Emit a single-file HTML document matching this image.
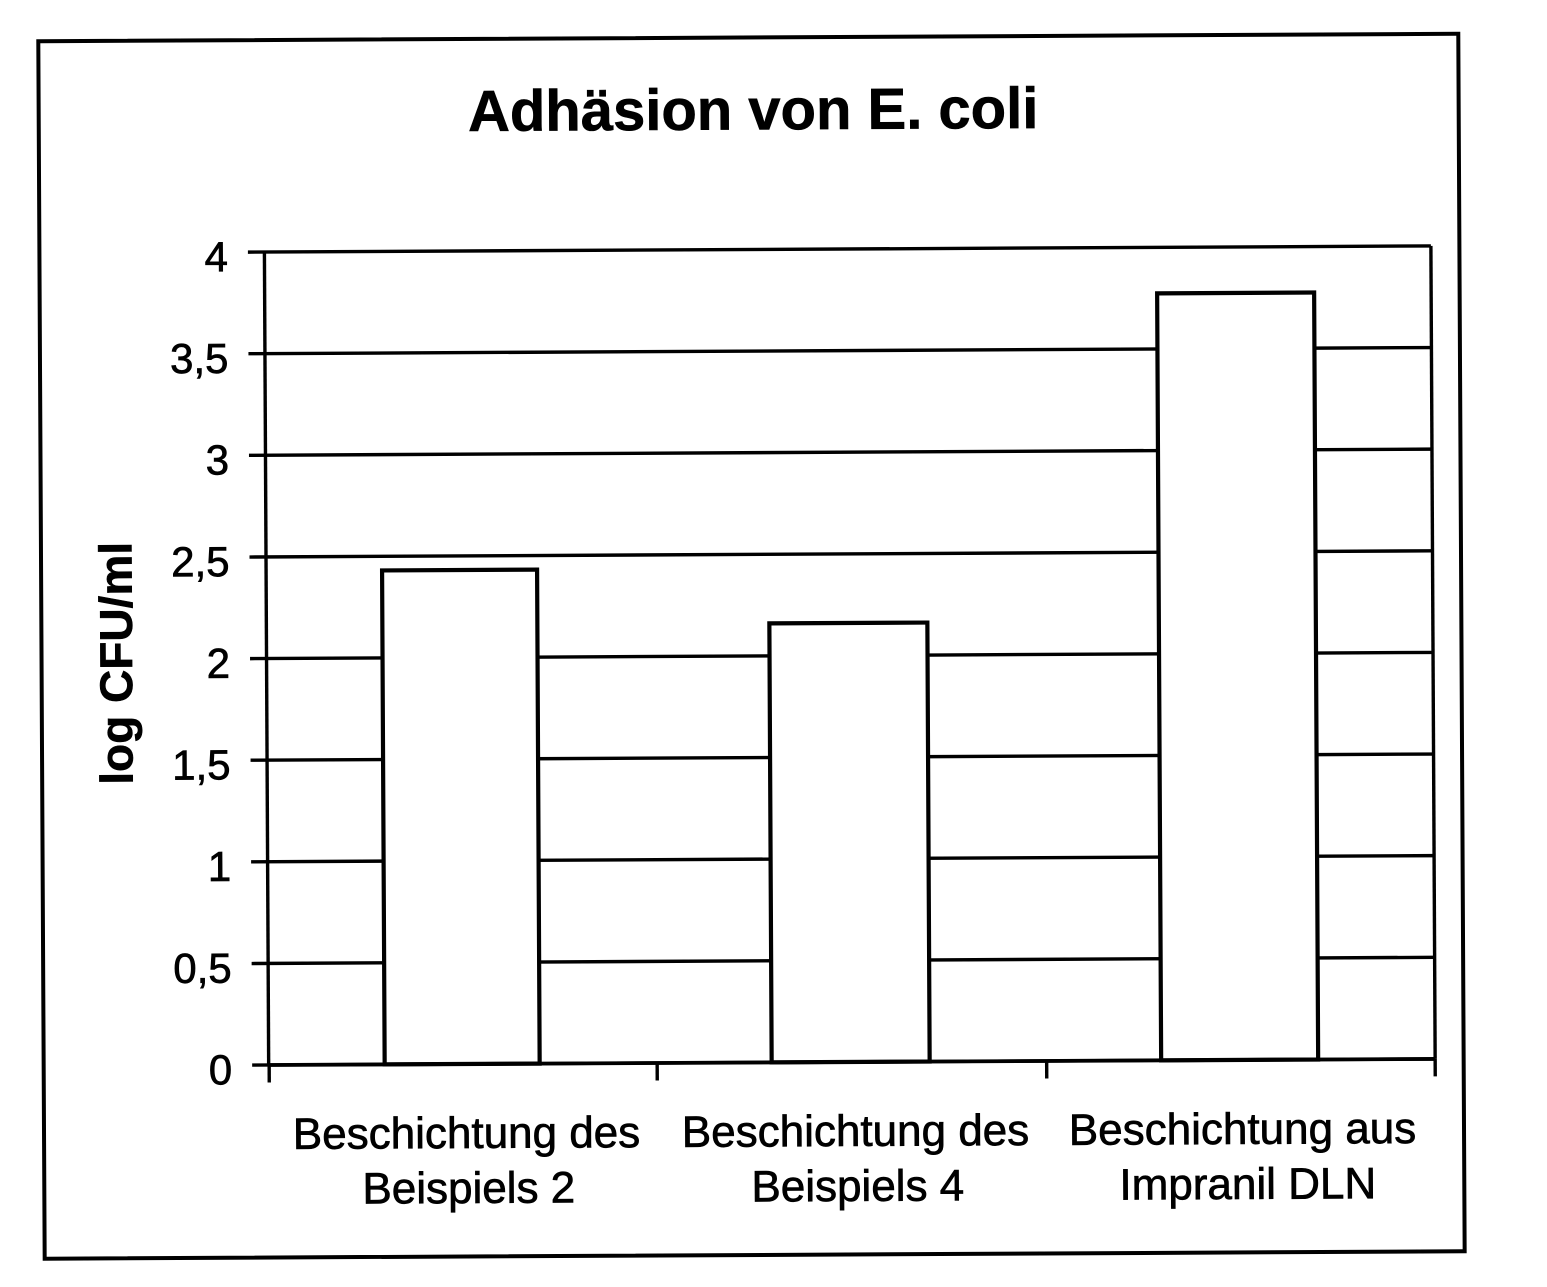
<!DOCTYPE html>
<html>
<head>
<meta charset="utf-8">
<style>
  html, body { margin: 0; padding: 0; background: #ffffff; }
  svg { display: block; }
  text { font-family: "Liberation Sans", Arial, sans-serif; fill: #000; }
</style>
</head>
<body>
<svg width="1547" height="1287" viewBox="0 0 1547 1287" xmlns="http://www.w3.org/2000/svg">
  <rect x="0" y="0" width="1547" height="1287" fill="#ffffff"/>
  <g transform="rotate(-0.3 750 650)">
    <!-- outer frame -->
    <rect x="41.5" y="37.5" width="1420" height="1217.5" fill="none" stroke="#000" stroke-width="4"/>

    <!-- title -->
    <text x="756" y="129.5" font-size="58" font-weight="bold" text-anchor="middle" stroke="#000" stroke-width="0.6">Adhäsion von E. coli</text>

    <!-- y axis title -->
    <text transform="translate(132,660) rotate(-90)" font-size="46" font-weight="bold" text-anchor="middle" stroke="#000" stroke-width="0.6">log CFU/ml</text>

    <!-- gridlines + y ticks -->
    <g stroke="#000" stroke-width="3.4">
      <line x1="250" y1="249.5" x2="1433" y2="249.5"/>
      <line x1="250" y1="351.1" x2="1433" y2="351.1"/>
      <line x1="250" y1="452.7" x2="1433" y2="452.7"/>
      <line x1="250" y1="554.4" x2="1433" y2="554.4"/>
      <line x1="250" y1="656" x2="1433" y2="656"/>
      <line x1="250" y1="757.6" x2="1433" y2="757.6"/>
      <line x1="250" y1="859.2" x2="1433" y2="859.2"/>
      <line x1="250" y1="960.9" x2="1433" y2="960.9"/>
      <line x1="250" y1="1062.5" x2="1433" y2="1062.5"/>
      <!-- plot left axis and right border -->
      <line x1="266.5" y1="249.5" x2="266.5" y2="1062.5"/>
      <line x1="1433" y1="249.5" x2="1433" y2="1062.5"/>
      <!-- x ticks -->
      <line x1="267" y1="1062.5" x2="267" y2="1080"/>
      <line x1="655" y1="1062.5" x2="655" y2="1080"/>
      <line x1="1044.5" y1="1062.5" x2="1044.5" y2="1080"/>
      <line x1="1433" y1="1062.5" x2="1433" y2="1080"/>
    </g>

    <!-- bars -->
    <g fill="#ffffff" stroke="#000" stroke-width="4.2">
      <rect x="382.5" y="568.5" width="155" height="494"/>
      <rect x="769.5" y="623.5" width="158" height="439"/>
      <rect x="1159" y="295.5" width="157" height="767"/>
    </g>
    <line x1="266.5" y1="1062.5" x2="1433" y2="1062.5" stroke="#000" stroke-width="3.8"/>

    <!-- y tick labels -->
    <g font-size="42" text-anchor="end" stroke="#000" stroke-width="0.7">
      <text x="230" y="268.5">4</text>
      <text x="230" y="370.1">3,5</text>
      <text x="230" y="471.7">3</text>
      <text x="230" y="573.4">2,5</text>
      <text x="230" y="675">2</text>
      <text x="230" y="776.6">1,5</text>
      <text x="230" y="878.2">1</text>
      <text x="230" y="979.9">0,5</text>
      <text x="230" y="1081.5">0</text>
    </g>

    <!-- x category labels -->
    <g font-size="44" text-anchor="middle" stroke="#000" stroke-width="0.7">
      <text x="464" y="1146.5">Beschichtung des</text>
      <text x="466" y="1201.5">Beispiels 2</text>
      <text x="853" y="1146.5">Beschichtung des</text>
      <text x="855" y="1201.5">Beispiels 4</text>
      <text x="1240" y="1146.5">Beschichtung aus</text>
      <text x="1245" y="1201.5">Impranil DLN</text>
    </g>
  </g>
</svg>
</body>
</html>
